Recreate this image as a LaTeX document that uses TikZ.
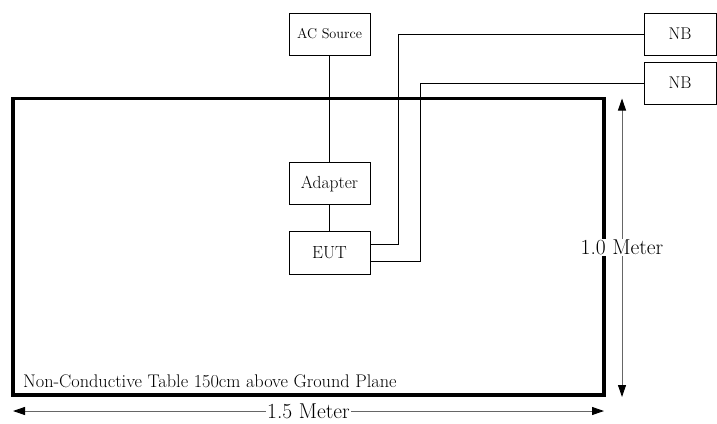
\documentclass[tikz,border=0pt]{standalone}
\usepackage{tikz}
\usetikzlibrary{arrows.meta, positioning, calc}

\begin{document}
\begin{tikzpicture}[
    x=1pt, y=-1pt,
    box/.style={rectangle, draw, line width=0.8pt, minimum width=81pt, minimum height=42pt, inner sep=0pt, font=\fontsize{17.5}{21}\selectfont},
    smallbox/.style={box, font=\fontsize{14.2}{17}\selectfont},
    nbbox/.style={box, minimum width=72pt, font=\fontsize{17}{20}\selectfont},
    tablebox/.style={rectangle, draw, line width=3.5pt, outer sep=0pt, minimum width=591pt, minimum height=296.5pt},
    wire/.style={draw, line width=0.8pt},
    dim/.style={draw, black!60, line width=0.9pt, {Triangle[length=12pt, width=8pt, color=black, fill=black]}-{Triangle[length=12pt, width=8pt, color=black, fill=black]}},
    dimlabel/.style={fill=white, text=black, inner sep=1pt, font=\fontsize{21.5}{25}\selectfont}
]
\useasboundingbox (0,0) rectangle (717,423);

% Nodes
\node [tablebox] at (308.5,246.75) (table) {};
\node [anchor=west, inner sep=0pt, font=\fontsize{18.3}{22}\selectfont] at ([xshift=10pt, yshift=13.5pt]table.south west) (tabletext) {Non-Conductive Table 150cm above Ground Plane};

\node [smallbox] at (329.5,34) (ac) {AC Source};
\node [box, below=107pt of ac] (adapter) {Adapter};
\node [box, below=26pt of adapter, minimum height=43pt] (eut) {EUT};

\node [nbbox] at (680,34) (nb1) {NB};
\node [nbbox] at (680,83) (nb2) {NB};

% Edges
\path [wire] (ac) -- (adapter);
\path [wire] (adapter) -- (eut);
\path [wire] ([yshift=8.5pt]eut.east) -- ++(28pt,0) |- (nb1.west);
\path [wire] ([yshift=-8.5pt]eut.east) -- ++(50pt,0) |- (nb2.west);

% Dimensions
\path [dim] ([xshift=18pt]table.north east) -- ([xshift=18pt, yshift=-2pt]table.south east) node [dimlabel, midway] (height) {1.0 Meter};
\path [dim] ([yshift=-16pt]table.south west) -- ([yshift=-16pt]table.south east) node [dimlabel, midway] (width) {1.5 Meter};
\end{tikzpicture}
\end{document}
